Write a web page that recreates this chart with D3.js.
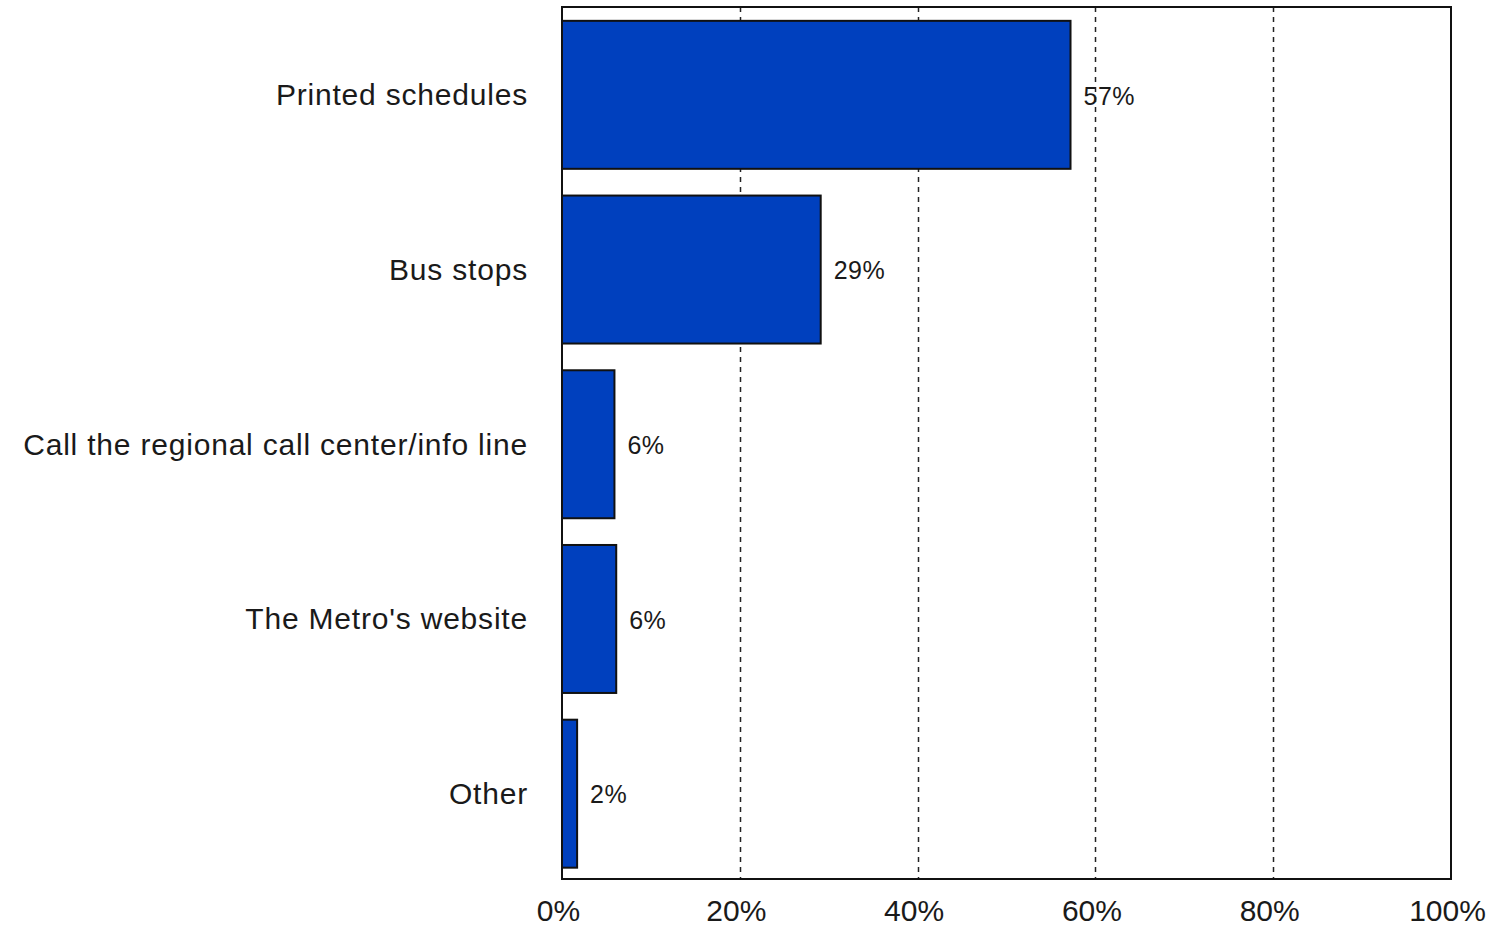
<!DOCTYPE html>
<html>
<head>
<meta charset="utf-8">
<script src="https://cdn.jsdelivr.net/npm/d3@7"></script>
<style>
  body { margin: 0; background: #fff; }
  svg { display: block; }
  text { font-family: "Liberation Sans", Arial, sans-serif; fill: #1a1a1a; }
</style>
</head>
<body>
<div id="chart"></div>
<script>
// data
const categories = [
  "Printed schedules",
  "Bus stops",
  "Call the regional call center/info line",
  "The Metro's website",
  "Other",
];
const values = [57.2, 29.1, 5.9, 6.1, 1.7];
const valueLabels = ["57%", "29%", "6%", "6%", "2%"];
const xTicks = [0, 20, 40, 60, 80, 100];

const data = categories.map((c, i) => ({ cat: c, value: values[i], label: valueLabels[i] }));

const W = 1498, H = 927;
const margin = { top: 7, right: 47, bottom: 48, left: 562 };
const width = W - margin.left - margin.right;
const height = H - margin.top - margin.bottom;

const svg = d3
  .select("#chart")
  .append("svg")
  .attr("width", W)
  .attr("height", H);

const g = svg.append("g").attr("transform", `translate(${margin.left},${margin.top})`);

const x = d3.scaleLinear().domain([0, 100]).range([0, width]);
const y = d3
  .scaleBand()
  .domain(categories)
  .range([0, height])
  .paddingInner(0.153)
  .paddingOuter(0.072)
  .align(0.55);

// dashed grid lines
g.append("g")
  .selectAll("line")
  .data(xTicks.filter((t) => t > 0 && t < 100))
  .enter()
  .append("line")
  .attr("x1", (d) => Math.round(x(d)) + 0.5)
  .attr("x2", (d) => Math.round(x(d)) + 0.5)
  .attr("y1", 0)
  .attr("y2", height)
  .attr("stroke", "#222")
  .attr("stroke-width", 1.5)
  .attr("stroke-dasharray", "5,5");

// bars
g.append("g")
  .selectAll("rect")
  .data(data)
  .enter()
  .append("rect")
  .attr("x", 0)
  .attr("y", (d) => y(d.cat))
  .attr("width", (d) => x(d.value))
  .attr("height", y.bandwidth())
  .attr("fill", "#0040BE")
  .attr("stroke", "#111")
  .attr("stroke-width", 2);

// value labels
g.append("g")
  .selectAll("text")
  .data(data)
  .enter()
  .append("text")
  .attr("x", (d) => x(d.value) + 13)
  .attr("y", (d) => y(d.cat) + y.bandwidth() / 2 + 1)
  .attr("dy", "0.35em")
  .style("font-size", "25px")
  .style("letter-spacing", "0.5px")
  .text((d) => d.label);

// frame
g.append("rect")
  .attr("x", 0)
  .attr("y", 0)
  .attr("width", width)
  .attr("height", height)
  .attr("fill", "none")
  .attr("stroke", "#111")
  .attr("stroke-width", 2);

// category labels
g.append("g")
  .selectAll("text")
  .data(data)
  .enter()
  .append("text")
  .attr("x", -34)
  .attr("y", (d) => y(d.cat) + y.bandwidth() / 2)
  .attr("dy", "0.35em")
  .attr("text-anchor", "end")
  .style("font-size", "30px")
  .style("letter-spacing", "0.8px")
  .text((d) => d.cat);

// x axis
const xAxis = g
  .append("g")
  .attr("transform", `translate(0,${height})`)
  .call(d3.axisBottom(x).tickValues(xTicks).tickSize(0).tickPadding(21).tickFormat((d) => d + "%"));
xAxis.select(".domain").remove();
xAxis.selectAll("text").style("font-size", "30px").attr("fill", "#1a1a1a").attr("dx", "-4px");
</script>
</body>
</html>
